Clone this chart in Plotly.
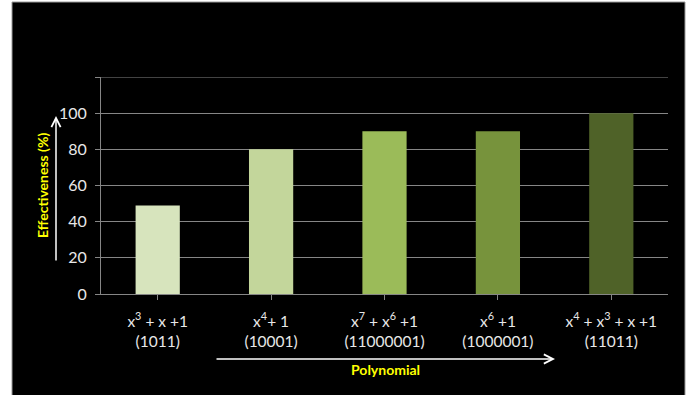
import plotly.graph_objects as go

categories = ["x<sup>3</sup> + x +1<br>(1011)", "x<sup>4</sup>+ 1<br>(10001)",
              "x<sup>7</sup> + x<sup>6</sup> +1<br>(11000001)", "x<sup>6</sup> +1<br>(1000001)",
              "x<sup>4</sup> + x<sup>3</sup> + x +1<br>(11011)"]
values = [49, 80, 90, 90, 100]
colors = ["#D7E4BD", "#C3D69B", "#9BBB59", "#77933C", "#4F6228"]
y_ticks = [0, 20, 40, 60, 80, 100, 120]
y_ticktext = ["0", "20", "40", "60", "80", "100", ""]

W, H = 689, 395
L, R, T, B = 101, 21, 77, 101
pw, ph = W - L - R, H - T - B

def px(x):
    return (x - L) / pw

def py(y):
    return (H - B - y) / ph

fig = go.Figure()
fig.add_trace(go.Bar(x=list(range(len(categories))), y=values, marker=dict(color=colors, line=dict(width=0)),
                     width=0.39))

font_family = "Lato, 'Open Sans', sans-serif"
fig.update_layout(
    width=W, height=H,
    margin=dict(l=L, r=R, t=T, b=B),
    paper_bgcolor="white",
    plot_bgcolor="black",
    showlegend=False,
    font=dict(family=font_family, color="#e8e8e8", size=15),
    xaxis=dict(tickmode="array", tickvals=list(range(len(categories))), ticktext=categories,
               range=[-0.5, 4.5], showgrid=False, showline=True, linecolor="#868686", linewidth=1,
               ticks="outside", tickson="boundaries", ticklen=5, tickcolor="#868686",
               ticklabelstandoff=8,
               tickfont=dict(size=15.5, color="#e8e8e8"), zeroline=False),
    yaxis=dict(range=[0, 120], tickmode="array", tickvals=y_ticks, ticktext=y_ticktext,
               showgrid=True, gridcolor="#868686", gridwidth=1, showline=True, linecolor="#868686",
               linewidth=1, ticks="outside", ticklen=5, tickcolor="#868686",
               ticklabelstandoff=5,
               tickfont=dict(size=16, color="#e8e8e8"), zeroline=False),
)

# black panel background
fig.add_shape(type="rect", xref="paper", yref="paper", x0=px(12), x1=px(685), y0=py(400), y1=py(2),
              fillcolor="black", line=dict(color="#9a9a9a", width=1), layer="below")
# top gridline at the axis maximum
fig.add_shape(type="line", xref="paper", yref="y", x0=0, x1=1, y0=120, y1=120,
              line=dict(color="#868686", width=1), layer="below")

# axis titles
fig.add_annotation(text="<b>Effectiveness (%)</b>", textangle=-90, xref="paper", yref="paper",
                   x=px(42), y=py(186), xanchor="center", yanchor="middle", showarrow=False,
                   font=dict(color="#FFFF00", size=14, family=font_family))
fig.add_annotation(text="<b>Polynomial</b>", xref="paper", yref="paper",
                   x=px(385), y=py(369), xanchor="center", yanchor="middle", showarrow=False,
                   font=dict(color="#FFFF00", size=14, family=font_family))

# arrows
fig.add_annotation(text="", xref="paper", yref="paper", x=px(555), y=py(359), ax=-340, ay=0,
                   showarrow=True, arrowhead=5, arrowsize=1.2, arrowwidth=1.5, arrowcolor="white")
fig.add_annotation(text="", xref="paper", yref="paper", x=px(56), y=py(116), ax=0, ay=146,
                   showarrow=True, arrowhead=5, arrowsize=1.2, arrowwidth=1.5, arrowcolor="white")

fig.write_html("out.html")
